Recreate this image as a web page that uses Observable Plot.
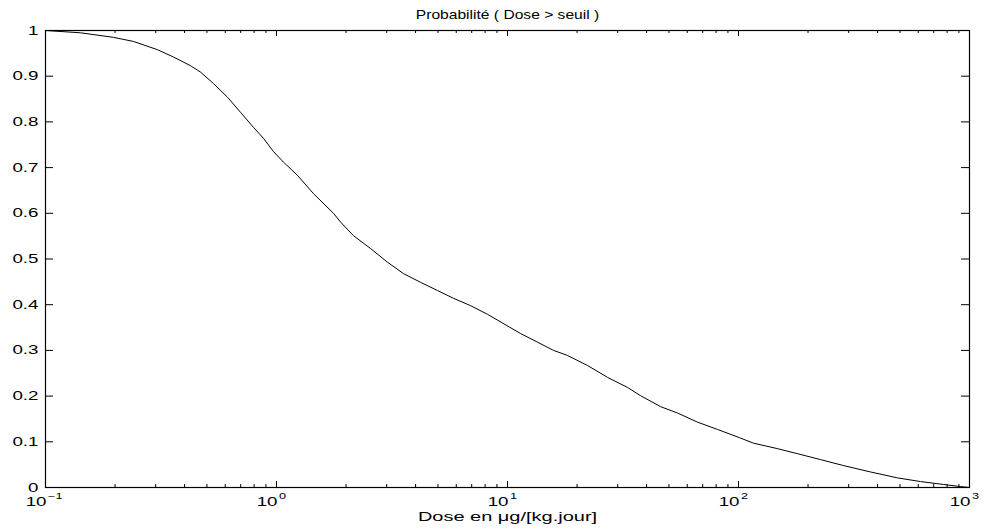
<!DOCTYPE html>
<html><head><meta charset="utf-8">
<script src="https://cdn.jsdelivr.net/npm/d3@7"></script>
<script src="https://cdn.jsdelivr.net/npm/@observablehq/plot@0.6"></script>
<style>body{margin:0;background:#fff}</style>
</head><body><div id="chart"></div>
<script>
const doses = [0.1, 0.1417, 0.197, 0.2404, 0.3053, 0.358, 0.4243, 0.4688, 0.5336, 0.6136, 0.6985, 0.795, 0.8783, 0.9705, 1.072, 1.233, 1.446, 1.765, 1.893, 2.154, 2.552, 3.024, 3.546, 4.202, 4.977, 5.838, 6.915, 8.193, 10.2, 11.38, 13.49, 15.82, 18.18, 22.2, 27.1, 33.07, 37.65, 45.95, 54.44, 66.45, 81.14, 101, 116.1, 147.5, 180, 226.5, 284.8, 372.8, 488, 613.6, 771.8, 914, 1000];
const probs = [1.0, 0.995, 0.985, 0.976, 0.958, 0.942, 0.923, 0.909, 0.884, 0.854, 0.821, 0.788, 0.764, 0.735, 0.712, 0.683, 0.643, 0.600, 0.581, 0.551, 0.523, 0.493, 0.468, 0.449, 0.431, 0.414, 0.398, 0.379, 0.351, 0.337, 0.318, 0.300, 0.289, 0.267, 0.241, 0.219, 0.201, 0.177, 0.163, 0.143, 0.127, 0.109, 0.097, 0.085, 0.074, 0.061, 0.048, 0.034, 0.021, 0.013, 0.0066, 0.002, 0];
const yTicks = [0, 0.1, 0.2, 0.3, 0.4, 0.5, 0.6, 0.7, 0.8, 0.9, 1];
const yTickLabels = ["0", "0.1", "0.2", "0.3", "0.4", "0.5", "0.6", "0.7", "0.8", "0.9", "1"];
const xDecades = [0.1, 1, 10, 100, 1000];
const xExponents = ["\u22121", "0", "1", "2", "3"];
const xMinor = [0.2, 0.3, 0.4, 0.5, 0.6, 0.7, 0.8, 0.9, 2, 3, 4, 5, 6, 7, 8, 9, 20, 30, 40, 50, 60, 70, 80, 90, 200, 300, 400, 500, 600, 700, 800, 900];
const title = "Probabilit\u00e9 ( Dose > seuil )";
const xLabel = "Dose en \u03bcg/[kg.jour]";

const W = 988, H = 530, mL = 45, mR = 19, mT = 30, mB = 43;
const pw = W - mL - mR, ph = H - mT - mB;
const data = doses.map((d, i) => ({x: d, y: probs[i]}));
const fs = 12.5;

const plot = Plot.plot({
  width: W, height: H,
  marginLeft: mL, marginRight: mR, marginTop: mT, marginBottom: mB,
  style: {fontFamily: "'Liberation Sans', Arial, Helvetica, sans-serif", background: "#fff", color: "#000"},
  x: {type: "log", domain: [0.1, 1000], axis: null},
  y: {domain: [0, 1], axis: null},
  marks: [
    Plot.line(data, {x: "x", y: "y", stroke: "#000", strokeWidth: 1}),
    Plot.ruleX(xDecades, {x: d => d, insetTop: ph - 6, stroke: "#000"}),
    Plot.ruleX(xDecades, {x: d => d, insetBottom: ph - 6, stroke: "#000"}),
    Plot.ruleX(xMinor, {x: d => d, insetTop: ph - 3, stroke: "#000"}),
    Plot.ruleX(xMinor, {x: d => d, insetBottom: ph - 3, stroke: "#000"}),
    Plot.ruleY(yTicks, {y: d => d, insetRight: pw - 8, stroke: "#000"}),
    Plot.ruleY(yTicks, {y: d => d, insetLeft: pw - 8, stroke: "#000"}),
    Plot.frame({stroke: "#000", strokeWidth: 1.2}),
    Plot.text(yTicks, {y: d => d, text: (d, i) => yTickLabels[i], frameAnchor: "left", textAnchor: "end", dx: -7, fontSize: fs, fill: "#000"}),
    Plot.text(xDecades, {x: d => d, text: () => "10", frameAnchor: "bottom", textAnchor: "end", dx: 1, dy: 18, fontSize: fs, fill: "#000"}),
    Plot.text(xDecades, {x: d => d, text: (d, i) => xExponents[i], frameAnchor: "bottom", textAnchor: "start", dx: 2.5, dy: 11, fontSize: 8.5, fill: "#000"}),
    Plot.text([title], {text: d => d, frameAnchor: "top", dy: -20, fontSize: fs, fill: "#000"}),
    Plot.text([xLabel], {text: d => d, frameAnchor: "bottom", dy: 33, fontSize: fs, fill: "#000"})
  ]
});
plot.querySelectorAll("text").forEach(t => {
  const tr = t.getAttribute("transform") || "";
  const s = t.textContent === title ? 1.25 : t.textContent === xLabel ? 1.6 : 1.5;
  t.setAttribute("transform", tr + ` scale(${s},1)`);
});
document.getElementById("chart").appendChild(plot);
</script>
</body></html>
